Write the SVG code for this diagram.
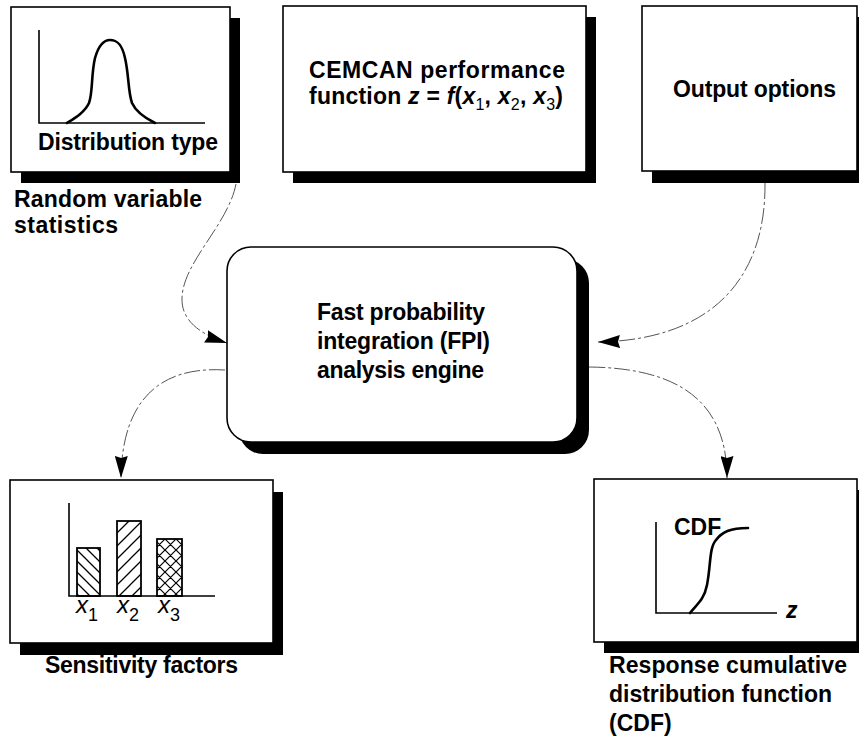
<svg xmlns="http://www.w3.org/2000/svg" width="859" height="744" viewBox="0 0 859 744">
<style>
.box{fill:#fff;stroke:#000;stroke-width:1.6}
.shadow{fill:#000}
.lbl{font-family:"Liberation Sans",Arial,Helvetica,sans-serif;font-weight:bold;font-size:23px;fill:#000}
.n{font-weight:normal}
.i{font-style:italic}
.sub{font-size:16px;font-weight:normal;font-style:normal}
.xl{font-size:24px}
.xs{font-size:18px;font-style:normal}
.axis{fill:none;stroke:#000;stroke-width:1.6}
.curve{fill:none;stroke:#000;stroke-width:2.6;stroke-linecap:round}
.conn{fill:none;stroke:#555;stroke-width:1;stroke-dasharray:16 3 3 3}
.bar{stroke:#000;stroke-width:1.8}
</style>
<defs>
<marker id="arr" viewBox="0 0 22 13" refX="22" refY="6.5" markerWidth="22" markerHeight="13" markerUnits="userSpaceOnUse" orient="auto">
<path d="M0,0 L22,6.5 L0,13 L2,6.5 z" fill="#000"/>
</marker>
<pattern id="hatchA" patternUnits="userSpaceOnUse" width="11" height="11">
<path d="M-3,-3 L14,14 M-3,8 L3,14 M8,-3 L14,3" stroke="#000" stroke-width="1.3"/>
</pattern>
<pattern id="hatchB" patternUnits="userSpaceOnUse" width="13" height="13">
<path d="M-3,16 L16,-3 M-3,3 L3,-3 M10,16 L16,10" stroke="#000" stroke-width="1.3"/>
</pattern>
<pattern id="hatchC" patternUnits="userSpaceOnUse" width="11" height="11">
<path d="M-3,-3 L14,14 M-3,8 L3,14 M8,-3 L14,3 M-3,14 L14,-3 M-3,3 L3,-3 M8,14 L14,8" stroke="#000" stroke-width="1.2"/>
</pattern>
</defs>

<g id="connectors">
<path class="conn" d="M236,184 C228,225 183,262 182,298 C181,323 205,336 227,343" marker-end="url(#arr)"/>
<path class="conn" d="M765,183 C766,280 710,340 598,342" marker-end="url(#arr)"/>
<path class="conn" d="M225,370 C160,366 122,400 121,478" marker-end="url(#arr)"/>
<path class="conn" d="M589,367 C670,368 727,395 727,478" marker-end="url(#arr)"/>
</g>

<g id="distribution">
<rect class="shadow" x="21" y="18" width="219" height="165"/>
<rect class="box" x="11" y="7" width="219" height="165"/>
<path class="axis" d="M39,30 L39,123 L205,123"/>
<path class="curve" d="M67,123 C75,118 85,112 89,103 C93,92 91,75 95,58 C99,44 104,40 110,40 C117,40 122,44 125,58 C129,75 128,92 132,103 C136,112 145,118 155,123"/>
<text class="lbl" x="38" y="150" textLength="180" lengthAdjust="spacing">Distribution type</text>
</g>

<g id="random-label">
<text class="lbl" x="14" y="207" textLength="188" lengthAdjust="spacing">Random variable</text>
<text class="lbl" x="14" y="233" textLength="104" lengthAdjust="spacing">statistics</text>
</g>

<g id="cemcan">
<rect class="shadow" x="293" y="17" width="303" height="166"/>
<rect class="box" x="283" y="6" width="303" height="166"/>
<text class="lbl" x="309" y="78" textLength="256" lengthAdjust="spacing">CEMCAN performance</text>
<text class="lbl" x="309" y="104" textLength="254" lengthAdjust="spacing">function <tspan class="i">z</tspan> = <tspan class="i">f</tspan>(<tspan class="i">x</tspan><tspan class="sub" dy="6">1</tspan><tspan dy="-6">, </tspan><tspan class="i">x</tspan><tspan class="sub" dy="6">2</tspan><tspan dy="-6">, </tspan><tspan class="i">x</tspan><tspan class="sub" dy="6">3</tspan><tspan dy="-6">)</tspan></text>
</g>

<g id="output">
<rect class="shadow" x="652" y="17" width="215" height="166"/>
<rect class="box" x="642" y="6" width="215" height="165"/>
<text class="lbl" x="673" y="97" textLength="163" lengthAdjust="spacing">Output options</text>
</g>

<g id="fpi">
<rect class="shadow" x="239" y="259" width="350" height="195" rx="24"/>
<rect class="box" x="227" y="247" width="350" height="195" rx="24"/>
<text class="lbl" x="317" y="320" textLength="168" lengthAdjust="spacing">Fast probability</text>
<text class="lbl" x="317" y="349" textLength="173" lengthAdjust="spacing">integration (FPI)</text>
<text class="lbl" x="317" y="378" textLength="167" lengthAdjust="spacing">analysis engine</text>
</g>

<g id="sensitivity">
<rect class="shadow" x="20" y="492" width="263" height="163"/>
<rect class="box" x="10" y="480" width="263" height="163"/>
<path class="axis" d="M69,503 L69,596 L215,596"/>
<rect class="bar" x="77" y="548" width="23" height="48" fill="url(#hatchA)"/>
<rect class="bar" x="117" y="521" width="24" height="75" fill="url(#hatchB)"/>
<rect class="bar" x="157" y="539" width="25" height="57" fill="url(#hatchC)"/>
<text class="lbl n i xl" x="76" y="613">x<tspan class="xs" dy="8">1</tspan></text>
<text class="lbl n i xl" x="117" y="613">x<tspan class="xs" dy="8">2</tspan></text>
<text class="lbl n i xl" x="158" y="613">x<tspan class="xs" dy="8">3</tspan></text>
<text class="lbl" x="45" y="673" textLength="193" lengthAdjust="spacing">Sensitivity factors</text>
</g>

<g id="cdf">
<rect class="shadow" x="604" y="490" width="263" height="163"/>
<rect class="box" x="594" y="479" width="263" height="163"/>
<path class="axis" d="M656,522 L656,613 L777,613"/>
<path class="curve" d="M690,613 C697,604 704,600 707,585 C711,565 709,548 716,540 C722,532 730,528 748,528"/>
<text class="lbl" x="674" y="535">CDF</text>
<text class="lbl i" x="786" y="618">z</text>
<text class="lbl" x="609" y="673" textLength="238" lengthAdjust="spacing">Response cumulative</text>
<text class="lbl" x="609" y="702" textLength="223" lengthAdjust="spacing">distribution function</text>
<text class="lbl" x="609" y="731">(CDF)</text>
</g>
</svg>
